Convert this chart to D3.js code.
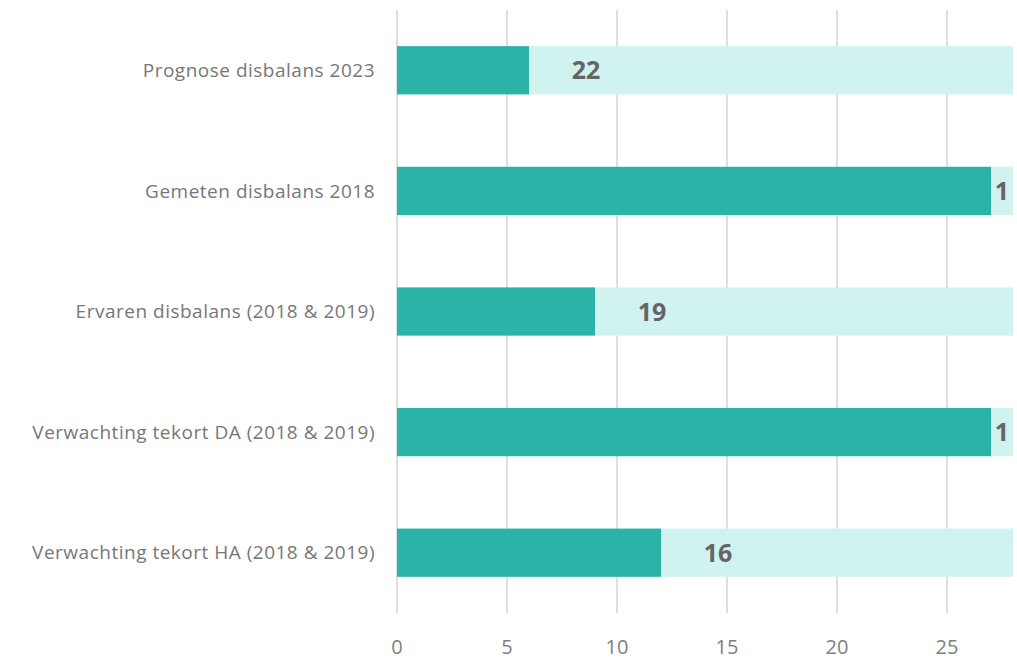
<!DOCTYPE html>
<html>
<head>
<meta charset="utf-8">
<script src="https://cdn.jsdelivr.net/npm/d3@7"></script>
<style>
  body { margin: 0; background: #fff; }
  svg text { font-family: "Open Sans", "Noto Sans", sans-serif; }
</style>
</head>
<body>
<div id="chart"></div>
<script>
// Data
var categories = [
  'Prognose disbalans 2023',
  'Gemeten disbalans 2018',
  'Ervaren disbalans (2018 & 2019)',
  'Verwachting tekort DA (2018 & 2019)',
  'Verwachting tekort HA (2018 & 2019)'
];
var baseValues = [6, 27, 9, 27, 12];
var restValues = [22, 1, 19, 1, 16];
var xTicks = [0, 5, 10, 15, 20, 25];

var width = 1017, height = 660;
var margin = {top: 10, right: 4, bottom: 47, left: 397};

var svg = d3.select('#chart').append('svg')
  .attr('width', width)
  .attr('height', height);

var x = d3.scaleLinear()
  .domain([0, 28])
  .range([margin.left, width - margin.right]);

var y = d3.scaleBand()
  .domain(categories)
  .range([margin.top, height - margin.bottom])
  .paddingInner(0.6)
  .paddingOuter(0.3);

// gridlines
svg.append('g')
  .selectAll('line')
  .data(xTicks)
  .enter().append('line')
  .attr('x1', function(d) { return x(d); })
  .attr('x2', function(d) { return x(d); })
  .attr('y1', margin.top)
  .attr('y2', height - margin.bottom)
  .attr('stroke', '#dedede')
  .attr('stroke-width', 2);

var rows = categories.map(function(c, i) {
  return {cat: c, base: baseValues[i], rest: restValues[i]};
});

// light (remaining) segment
svg.append('g')
  .selectAll('rect')
  .data(rows)
  .enter().append('rect')
  .attr('x', function(d) { return x(d.base); })
  .attr('y', function(d) { return y(d.cat); })
  .attr('width', function(d) { return x(d.base + d.rest) - x(d.base); })
  .attr('height', y.bandwidth())
  .attr('fill', '#d1f3f0');

// dark segment
svg.append('g')
  .selectAll('rect')
  .data(rows)
  .enter().append('rect')
  .attr('x', x(0))
  .attr('y', function(d) { return y(d.cat); })
  .attr('width', function(d) { return x(d.base) - x(0); })
  .attr('height', y.bandwidth())
  .attr('fill', '#2bb3a7');

// value labels
svg.append('g')
  .selectAll('text')
  .data(rows)
  .enter().append('text')
  .attr('x', function(d) {
    var w = x(d.base + d.rest) - x(d.base);
    return x(d.base) + Math.min(57, w / 2);
  })
  .attr('y', function(d) { return y(d.cat) + y.bandwidth() / 2; })
  .attr('dy', '0.36em')
  .attr('text-anchor', 'middle')
  .attr('font-size', 25)
  .attr('font-weight', 'bold')
  .attr('fill', '#656565')
  .text(function(d) { return d.rest; });

// category labels
svg.append('g')
  .selectAll('text')
  .data(categories)
  .enter().append('text')
  .attr('x', margin.left - 22)
  .attr('y', function(d) { return y(d) + y.bandwidth() / 2; })
  .attr('dy', '0.35em')
  .attr('text-anchor', 'end')
  .attr('font-size', 19)
  .attr('letter-spacing', 0.5)
  .attr('fill', '#777')
  .text(function(d) { return d; });

// x axis labels
svg.append('g')
  .selectAll('text')
  .data(xTicks)
  .enter().append('text')
  .attr('x', function(d) { return x(d); })
  .attr('y', 647)
  .attr('dy', '0.35em')
  .attr('text-anchor', 'middle')
  .attr('font-size', 20)
  .attr('fill', '#808080')
  .text(function(d) { return d; });
</script>
</body>
</html>
